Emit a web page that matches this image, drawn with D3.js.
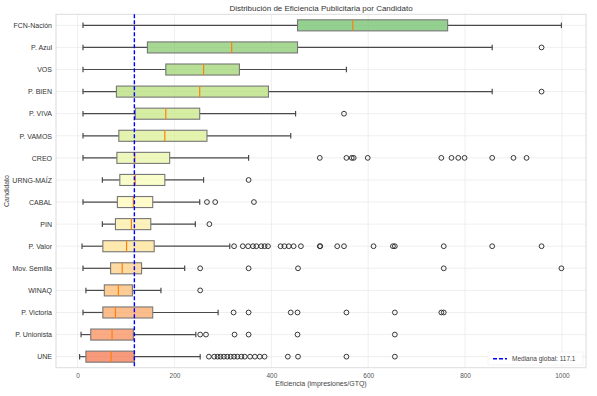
<!DOCTYPE html>
<html>
<head>
<meta charset="utf-8">
<script src="https://cdn.jsdelivr.net/npm/d3@7"></script>
<style>
  body { margin: 0; background: #fff; }
  text { font-family: "Liberation Sans", Arial, sans-serif; }
</style>
</head>
<body>
<div id="chart"></div>
<script>
const width = 597;
const height = 396;

// candidates, top to bottom
const candidates = ["FCN-Nación", "P. Azul", "VOS", "P. BIEN", "P. VIVA", "P. VAMOS", "CREO", "URNG-MAÍZ",
    "CABAL", "PIN", "P. Valor", "Mov. Semilla", "WINAQ", "P. Victoria", "P. Unionista", "UNE"];

// box stats (impresiones/GTQ)
const whiskerLow = [11, 11, 11, 11, 11, 11, 11, 51, 11, 51, 9, 11, 17, 11, 7, 4];
const q1 = [454, 144, 182, 80, 119, 85, 81, 87, 82, 78, 52, 68, 55, 52, 27, 17];
const medians = [568, 318, 260, 252, 182, 180, 118, 119, 115, 111, 101, 92, 84, 78, 71, 69];
const q3 = [764, 454, 334, 394, 252, 267, 190, 180, 155, 151, 158, 132, 113, 155, 115, 117];
const whiskerHigh = [999, 856, 555, 856, 450, 440, 353, 260, 252, 243, 314, 221, 172, 290, 244, 253];
const outliers = [
    [],
    [958],
    [],
    [958],
    [550],
    [],
    [500, 555, 566, 570, 599, 751, 772, 786, 799, 856, 900, 927],
    [353],
    [267, 284, 364],
    [272],
    [323, 341, 352, 362, 369, 379, 386, 393, 419, 427, 436, 446, 461, 500, 501, 536, 550, 611, 651, 655, 756, 856, 958],
    [253, 353, 455, 756, 999],
    [253],
    [322, 353, 440, 454, 555, 655, 751, 756],
    [253, 265, 324, 353, 454, 655],
    [271, 282, 289, 295, 302, 309, 316, 323, 330, 338, 345, 356, 366, 376, 386, 434, 455, 555, 655]
];
const xTicks = [0, 200, 400, 600, 800, 1000];
const globalMedian = 117.1;

const plotLeft = 56, plotRight = 586, plotTop = 14.3, plotBottom = 367.7;

const svg = d3.select('#chart').append('svg')
    .attr('width', width)
    .attr('height', height);

const x = d3.scaleLinear()
    .domain([-44.75, 1049.75])
    .range([plotLeft, plotRight]);

const y = d3.scalePoint()
    .domain(candidates)
    .range([plotTop, plotBottom])
    .padding(0.5);

const band = y.step();

// RdYlGn, piecewise like matplotlib
const rdylgn = d3.scaleLinear()
    .domain(d3.range(11).map(i => i / 10))
    .range(["#a50026", "#d73027", "#f46d43", "#fdae61", "#fee08b", "#ffffbf",
            "#d9ef8b", "#a6d96a", "#66bd63", "#1a9850", "#006837"]);
const colorIndex = d3.scaleLinear().domain([0, candidates.length - 1]).range([0.8, 0.2]);

// grid
const grid = svg.append('g');
grid.selectAll('line.vx')
    .data(xTicks)
    .enter().append('line')
    .attr('x1', d => x(d)).attr('x2', d => x(d))
    .attr('y1', plotTop).attr('y2', plotBottom)
    .attr('stroke', '#ebebeb').attr('stroke-width', 0.8);
grid.selectAll('line.hy')
    .data(candidates)
    .enter().append('line')
    .attr('x1', plotLeft).attr('x2', plotRight)
    .attr('y1', d => y(d)).attr('y2', d => y(d))
    .attr('stroke', '#ebebeb').attr('stroke-width', 0.8);

svg.append('rect')
    .attr('x', plotLeft).attr('y', plotTop)
    .attr('width', plotRight - plotLeft).attr('height', plotBottom - plotTop)
    .attr('fill', 'none').attr('stroke', '#dcdcdc').attr('stroke-width', 1);

// boxes
const rows = svg.selectAll('g.row')
    .data(candidates)
    .enter().append('g')
    .attr('class', 'row');

const boxH = band * 0.5;
const capH = boxH * 0.5;

rows.append('line')
    .attr('x1', (d, i) => x(whiskerLow[i])).attr('x2', (d, i) => x(q1[i]))
    .attr('y1', d => y(d)).attr('y2', d => y(d))
    .attr('stroke', '#4a4a4a').attr('stroke-width', 1.2);
rows.append('line')
    .attr('x1', (d, i) => x(q3[i])).attr('x2', (d, i) => x(whiskerHigh[i]))
    .attr('y1', d => y(d)).attr('y2', d => y(d))
    .attr('stroke', '#4a4a4a').attr('stroke-width', 1.2);
rows.append('line')
    .attr('x1', (d, i) => x(whiskerLow[i])).attr('x2', (d, i) => x(whiskerLow[i]))
    .attr('y1', d => y(d) - capH / 2).attr('y2', d => y(d) + capH / 2)
    .attr('stroke', '#4a4a4a').attr('stroke-width', 1.2);
rows.append('line')
    .attr('x1', (d, i) => x(whiskerHigh[i])).attr('x2', (d, i) => x(whiskerHigh[i]))
    .attr('y1', d => y(d) - capH / 2).attr('y2', d => y(d) + capH / 2)
    .attr('stroke', '#4a4a4a').attr('stroke-width', 1.2);

rows.append('rect')
    .attr('x', (d, i) => x(q1[i]))
    .attr('width', (d, i) => x(q3[i]) - x(q1[i]))
    .attr('y', d => y(d) - boxH / 2)
    .attr('height', boxH)
    .attr('fill', (d, i) => rdylgn(colorIndex(i)))
    .attr('fill-opacity', 0.7)
    .attr('stroke', '#777').attr('stroke-width', 1.1);

rows.append('line')
    .attr('x1', (d, i) => x(medians[i])).attr('x2', (d, i) => x(medians[i]))
    .attr('y1', d => y(d) - boxH / 2).attr('y2', d => y(d) + boxH / 2)
    .attr('stroke', '#ff7f0e').attr('stroke-width', 1.2);

rows.each(function(d, i) {
    d3.select(this).selectAll('circle')
        .data(outliers[i])
        .enter().append('circle')
        .attr('cx', v => x(v))
        .attr('cy', y(d))
        .attr('r', 2.4)
        .attr('fill', 'none')
        .attr('stroke', '#222')
        .attr('stroke-width', 0.9);
});

// global median
svg.append('line')
    .attr('x1', x(globalMedian)).attr('x2', x(globalMedian))
    .attr('y1', plotTop).attr('y2', plotBottom)
    .attr('stroke', '#0000ff').attr('stroke-width', 1.4)
    .attr('stroke-dasharray', '4,2');

// axes
const xAxis = svg.append('g')
    .attr('transform', `translate(0,${plotBottom})`)
    .call(d3.axisBottom(x).tickValues(xTicks).tickFormat(d3.format('d')).tickSize(0).tickPadding(6));
xAxis.select('.domain').remove();
xAxis.selectAll('text').attr('font-size', 6.5).attr('fill', '#555');

const yAxis = svg.append('g')
    .attr('transform', `translate(${plotLeft},0)`)
    .call(d3.axisLeft(y).tickSize(0).tickPadding(4));
yAxis.select('.domain').remove();
yAxis.selectAll('text').attr('font-size', 7).attr('fill', '#333');

svg.append('text')
    .attr('x', (plotLeft + plotRight) / 2).attr('y', 11)
    .attr('text-anchor', 'middle')
    .attr('font-size', 8).attr('fill', '#333')
    .text('Distribución de Eficiencia Publicitaria por Candidato');

svg.append('text')
    .attr('x', (plotLeft + plotRight) / 2).attr('y', 386)
    .attr('text-anchor', 'middle')
    .attr('font-size', 7).attr('fill', '#444')
    .text('Eficiencia (impresiones/GTQ)');

svg.append('text')
    .attr('transform', `translate(9,${(plotTop + plotBottom) / 2}) rotate(-90)`)
    .attr('text-anchor', 'middle')
    .attr('font-size', 7).attr('fill', '#444')
    .text('Candidato');

// legend
const legend = svg.append('g').attr('transform', 'translate(488,352)');
legend.append('rect')
    .attr('width', 95).attr('height', 13)
    .attr('fill', '#fff').attr('fill-opacity', 0.85)
    .attr('stroke', '#eee').attr('stroke-width', 0.6);
legend.append('line')
    .attr('x1', 5).attr('x2', 19).attr('y1', 6.7).attr('y2', 6.7)
    .attr('stroke', '#0000ff').attr('stroke-width', 1.4)
    .attr('stroke-dasharray', '4,2');
legend.append('text')
    .attr('x', 24).attr('y', 9)
    .attr('font-size', 6.5).attr('fill', '#444')
    .text('Mediana global: ' + globalMedian);
</script>
</body>
</html>
